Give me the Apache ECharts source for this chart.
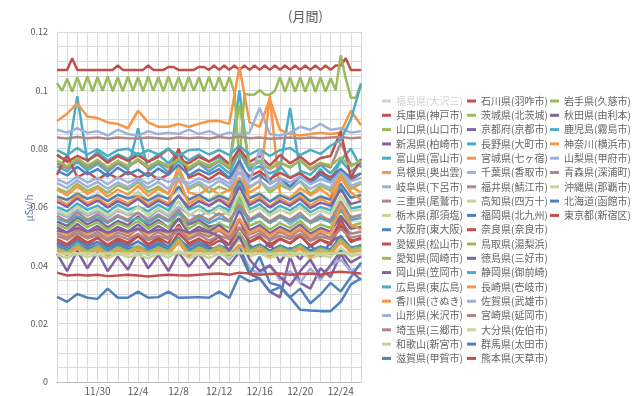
<!DOCTYPE html>
<html><head><meta charset="utf-8">
<script src="https://cdn.jsdelivr.net/npm/echarts@6/dist/echarts.min.js"></script>
<style>html,body{margin:0;padding:0;background:#fff}#c{width:640px;height:396px}</style>
</head><body><div id="c"></div>
<script>
// date labels, one per day (11/26 .. 12/26)
const dates = ['11/26','11/27','11/28','11/29','11/30','12/1','12/2','12/3','12/4','12/5','12/6','12/7','12/8','12/9','12/10','12/11','12/12','12/13','12/14','12/15','12/16','12/17','12/18','12/19','12/20','12/21','12/22','12/23','12/24','12/25','12/26'];
const yTicks = [0, 0.02, 0.04, 0.06, 0.08, 0.1, 0.12];

// legend columns (series order = column 1, then 2, then 3)
const col1 = ['福島県(大沢三)','兵庫県(神戸市)','山口県(山口市)','新潟県(柏崎市)','富山県(富山市)','島根県(奥出雲)','岐阜県(下呂市)','三重県(尾鷲市)','栃木県(那須塩)','大阪府(東大阪)','愛媛県(松山市)','愛知県(岡崎市)','岡山県(笠岡市)','広島県(東広島)','香川県(さぬき)','山形県(米沢市)','埼玉県(三郷市)','和歌山(新宮市)','滋賀県(甲賀市)'];
const col2 = ['石川県(羽咋市)','茨城県(北茨城)','京都府(京都市)','長野県(大町市)','宮城県(七ヶ宿)','千葉県(香取市)','福井県(鯖江市)','高知県(四万十)','福岡県(北九州)','奈良県(奈良市)','鳥取県(湯梨浜)','徳島県(三好市)','静岡県(御前崎)','長崎県(壱岐市)','佐賀県(武雄市)','宮崎県(延岡市)','大分県(佐伯市)','群馬県(太田市)','熊本県(天草市)'];
const col3 = ['岩手県(久慈市)','秋田県(由利本)','鹿児島(霧島市)','神奈川(横浜市)','山梨県(甲府市)','青森県(深浦町)','沖縄県(那覇市)','北海道(函館市)','東京都(新宿区)'];

// daily values (31 points) unless noted
const fukushima = [];
const hyogo    = [.0480,.0465,.0490,.0470,.0495,.0462,.0485,.0472,.0500,.0468,.0488,.0460,.0510,.0475,.0492,.0465,.0485,.0470,.0560,.0480,.0500,.0462,.0490,.0475,.0505,.0465,.0488,.0470,.0540,.0480,.0495];
const yamaguchi= [.0665,.0650,.0680,.0655,.0672,.0648,.0675,.0660,.0685,.0652,.0670,.0645,.0720,.0660,.0678,.0650,.0670,.0655,.0700,.0665,.0690,.0650,.0675,.0660,.0688,.0645,.0672,.0655,.0710,.0662,.0680];
const niigata  = [.0550,.0535,.0565,.0540,.0558,.0530,.0552,.0538,.0568,.0535,.0555,.0530,.0560,.0540,.0555,.0532,.0540,.0500,.0560,.0470,.0440,.0480,.0410,.0460,.0420,.0470,.0430,.0480,.0500,.0450,.0470];
const toyama   = [.0775,.0760,.0980,.0755,.0790,.0760,.0780,.0765,.0785,.0755,.0780,.0750,.0790,.0760,.0780,.0755,.0770,.0740,.1000,.0730,.0760,.0690,.0740,.0700,.0720,.0680,.0730,.0690,.0760,.0720,.0750];
const shimane  = [.0660,.0640,.0670,.0645,.0665,.0635,.0660,.0642,.0672,.0638,.0662,.0645,.0740,.0650,.0640,.0668,.0642,.0660,.0700,.0650,.0670,.0980,.0645,.0630,.0665,.0640,.0662,.0635,.0720,.0670,.0650];
const gifu     = [.0580,.0565,.0590,.0570,.0585,.0562,.0588,.0572,.0580,.0560,.0590,.0568,.0600,.0575,.0565,.0588,.0570,.0585,.0620,.0555,.0580,.0545,.0570,.0540,.0565,.0550,.0575,.0545,.0600,.0560,.0575];
const mie      = [.0510,.0495,.0520,.0498,.0515,.0490,.0512,.0500,.0525,.0492,.0515,.0495,.0540,.0490,.0512,.0498,.0520,.0492,.0560,.0505,.0520,.0490,.0515,.0498,.0522,.0488,.0510,.0495,.0550,.0508,.0515];
const tochigi  = [.0640,.0622,.0650,.0628,.0645,.0620,.0642,.0625,.0652,.0622,.0645,.0628,.0660,.0620,.0640,.0625,.0648,.0620,.0680,.0630,.0650,.0620,.0645,.0625,.0652,.0618,.0640,.0625,.0670,.0632,.0645];
const osaka    = [.0635,.0625,.0645,.0628,.0640,.0620,.0642,.0630,.0638,.0622,.0640,.0628,.0670,.0625,.0642,.0620,.0638,.0625,.0690,.0630,.0645,.0618,.0640,.0625,.0648,.0620,.0635,.0625,.0680,.0632,.0640];
const ehime    = [.0490,.0472,.0500,.0478,.0495,.0470,.0492,.0478,.0505,.0472,.0495,.0475,.0540,.0470,.0490,.0475,.0498,.0470,.0530,.0480,.0495,.0470,.0492,.0476,.0500,.0468,.0488,.0475,.0560,.0485,.0490];
const aichi    = [.0540,.0525,.0555,.0530,.0548,.0522,.0545,.0530,.0552,.0525,.0548,.0530,.0580,.0525,.0548,.0522,.0545,.0528,.0640,.0535,.0550,.0522,.0545,.0528,.0552,.0520,.0540,.0528,.0590,.0535,.0545];
const okayama  = [.0440,.0380,.0450,.0390,.0445,.0380,.0430,.0385,.0450,.0390,.0435,.0380,.0445,.0395,.0440,.0390,.0430,.0400,.0445,.0370,.0355,.0310,.0290,.0430,.0340,.0320,.0390,.0360,.0440,.0380,.0350];
const hiroshima= [.0600,.0585,.0612,.0590,.0605,.0582,.0608,.0590,.0602,.0585,.0608,.0588,.0640,.0590,.0605,.0582,.0605,.0588,.0680,.0592,.0610,.0580,.0605,.0588,.0612,.0582,.0600,.0588,.0670,.0595,.0602];
const kagawa   = [.0628,.0608,.0640,.0612,.0632,.0605,.0630,.0612,.0638,.0608,.0630,.0612,.0700,.0610,.0632,.0605,.0630,.0610,.0760,.0615,.0635,.0602,.0630,.0612,.0638,.0605,.0628,.0610,.0700,.0650,.0625];
const yamagata = [.0470,.0455,.0480,.0458,.0475,.0450,.0472,.0458,.0482,.0455,.0472,.0458,.0478,.0450,.0470,.0458,.0455,.0420,.0460,.0390,.0370,.0400,.0350,.0380,.0340,.0390,.0350,.0400,.0420,.0380,.0400];
const saitama  = [.0500,.0488,.0510,.0492,.0505,.0485,.0502,.0490,.0508,.0486,.0502,.0490,.0520,.0488,.0505,.0485,.0502,.0490,.0530,.0492,.0510,.0485,.0502,.0490,.0508,.0484,.0498,.0490,.0525,.0495,.0502];
const wakayama = [.0590,.0572,.0602,.0576,.0595,.0570,.0592,.0576,.0600,.0572,.0595,.0575,.0620,.0570,.0592,.0575,.0598,.0572,.0650,.0580,.0598,.0570,.0592,.0576,.0600,.0570,.0588,.0576,.0640,.0585,.0592];
const shiga    = [.0475,.0462,.0485,.0466,.0480,.0460,.0478,.0465,.0482,.0460,.0478,.0465,.0490,.0462,.0480,.0460,.0455,.0430,.0470,.0370,.0430,.0340,.0330,.0290,.0320,.0270,.0300,.0340,.0310,.0360,.0410];
// half-day values (61 points)
const ishikawa = [.107,.107,.107,.111,.107,.107,.107,.107,.107,.107,.107,.107,.1085,.107,.107,.107,.107,.107,.1085,.107,.107,.107,.108,.108,.107,.107,.107,.107,.108,.108,.107,.1085,.107,.1085,.107,.1085,.107,.1085,.107,.1085,.107,.1085,.107,.1085,.107,.1085,.107,.1085,.107,.1085,.107,.1085,.107,.1085,.107,.1085,.1085,.111,.107,.107,.107];
const ibaraki  = [.1025,.0998,.1040,.0995,.1045,.0998,.1048,.0997,.1045,.0998,.1048,.0997,.1045,.0997,.1048,.0998,.1045,.0997,.1048,.0998,.1045,.0997,.1048,.0998,.1045,.0997,.1046,.0998,.1045,.0997,.1047,.0998,.1045,.0997,.1045,.0995,.0750,.0988,.0985,.0986,.1000,.0986,.0985,.0998,.1045,.0995,.1045,.0995,.1045,.0995,.1045,.0995,.1045,.0995,.1042,.1000,.1120,.1040,.0975,.0975,.1025];
// daily values again
const kyoto    = [.0530,.0512,.0542,.0516,.0535,.0510,.0532,.0516,.0540,.0512,.0535,.0515,.0560,.0510,.0532,.0515,.0538,.0512,.0590,.0520,.0538,.0510,.0532,.0516,.0540,.0508,.0528,.0515,.0570,.0525,.0532];
const nagano   = [.0740,.0722,.0755,.0726,.0748,.0720,.0750,.0728,.0870,.0724,.0748,.0720,.0760,.0725,.0750,.0722,.0745,.0715,.0790,.0725,.0740,.0715,.0730,.0940,.0725,.0710,.0745,.0715,.0760,.0800,.0735];
const miyagi   = [.0895,.0920,.0955,.0910,.0905,.0890,.0885,.0870,.0930,.0890,.0875,.0875,.0885,.0875,.0885,.0895,.0895,.0885,.1080,.0890,.0875,.0970,.0865,.0850,.0845,.0850,.0855,.0850,.0855,.0930,.0880];
const chiba    = [.0865,.0855,.0870,.0855,.0860,.0845,.0865,.0850,.0845,.0860,.0850,.0855,.0850,.0865,.0850,.0860,.0845,.0855,.0850,.0855,.0940,.0850,.0845,.0855,.0875,.0865,.0885,.0865,.0870,.0855,.0860];
const fukui    = [.0750,.0732,.0762,.0736,.0755,.0730,.0752,.0736,.0760,.0732,.0755,.0735,.0780,.0730,.0752,.0735,.0758,.0732,.0800,.0738,.0755,.0730,.0752,.0736,.0760,.0728,.0748,.0735,.0820,.0745,.0752];
const kochi    = [.0455,.0445,.0462,.0448,.0458,.0442,.0460,.0448,.0455,.0442,.0460,.0446,.0475,.0444,.0460,.0442,.0458,.0445,.0490,.0448,.0462,.0440,.0458,.0445,.0462,.0442,.0455,.0445,.0480,.0450,.0458];
const fukuoka  = [.0465,.0452,.0472,.0456,.0468,.0450,.0470,.0456,.0465,.0450,.0470,.0455,.0495,.0452,.0470,.0450,.0468,.0454,.0510,.0458,.0472,.0450,.0468,.0454,.0472,.0450,.0465,.0454,.0500,.0460,.0468];
const nara     = [.0710,.0780,.0702,.0720,.0695,.0715,.0698,.0722,.0700,.0718,.0695,.0712,.0800,.0700,.0715,.0695,.0718,.0698,.0740,.0705,.0722,.0695,.0718,.0700,.0715,.0692,.0720,.0702,.0730,.0695,.0715];
const tottori  = [.0460,.0445,.0470,.0448,.0465,.0442,.0462,.0448,.0468,.0445,.0462,.0448,.0490,.0442,.0462,.0448,.0465,.0445,.0510,.0450,.0465,.0442,.0462,.0448,.0468,.0440,.0458,.0448,.0490,.0455,.0462];
const tokushima= [.0618,.0600,.0630,.0604,.0622,.0598,.0620,.0604,.0628,.0600,.0622,.0604,.0640,.0598,.0620,.0604,.0625,.0600,.0670,.0606,.0625,.0598,.0620,.0604,.0628,.0596,.0615,.0604,.0660,.0610,.0620];
const shizuoka = [.0560,.0548,.0570,.0552,.0565,.0545,.0568,.0552,.0562,.0545,.0568,.0550,.0580,.0548,.0565,.0545,.0562,.0550,.0600,.0552,.0570,.0545,.0565,.0550,.0570,.0545,.0560,.0550,.0590,.0555,.0562];
const nagasaki = [.0520,.0505,.0530,.0508,.0525,.0502,.0522,.0508,.0528,.0505,.0522,.0508,.0530,.0502,.0522,.0508,.0525,.0505,.0560,.0510,.0528,.0502,.0522,.0508,.0528,.0500,.0518,.0508,.0610,.0540,.0522];
const saga     = [.0682,.0665,.0692,.0668,.0686,.0662,.0684,.0668,.0692,.0665,.0686,.0662,.0700,.0668,.0686,.0665,.0690,.0668,.0720,.0670,.0690,.0662,.0686,.0665,.0690,.0662,.0680,.0665,.0730,.0672,.0686];
const miyazaki = [.0570,.0552,.0582,.0556,.0575,.0550,.0572,.0556,.0580,.0552,.0575,.0555,.0590,.0550,.0572,.0555,.0578,.0552,.0610,.0558,.0575,.0550,.0572,.0556,.0580,.0548,.0568,.0555,.0620,.0565,.0572];
const oita     = [.0435,.0425,.0442,.0428,.0438,.0424,.0440,.0428,.0436,.0424,.0440,.0426,.0450,.0424,.0438,.0425,.0440,.0426,.0470,.0430,.0442,.0424,.0438,.0428,.0442,.0424,.0435,.0428,.0460,.0432,.0438];
const gunma    = [.0725,.0708,.0738,.0712,.0730,.0705,.0735,.0712,.0728,.0705,.0732,.0710,.0745,.0708,.0728,.0712,.0730,.0700,.0760,.0690,.0710,.0680,.0700,.0670,.0705,.0680,.0712,.0690,.0730,.0700,.0715];
const kumamoto = [.0780,.0755,.0775,.0760,.0780,.0752,.0775,.0758,.0778,.0755,.0772,.0800,.0762,.0750,.0772,.0756,.0778,.0748,.0800,.0755,.0775,.0742,.0778,.0750,.0772,.0745,.0768,.0775,.0860,.0700,.0765];
const iwate    = [.0760,.0738,.0768,.0742,.0762,.0735,.0758,.0740,.0765,.0738,.0758,.0740,.0765,.0735,.0758,.0742,.0760,.0738,.0950,.0740,.0758,.0730,.0755,.0735,.0760,.0732,.0752,.0742,.0770,.0740,.0758];
const akita    = [.0520,.0513,.0528,.0515,.0524,.0512,.0522,.0515,.0526,.0513,.0522,.0515,.0524,.0512,.0520,.0515,.0500,.0450,.0500,.0420,.0380,.0400,.0360,.0330,.0380,.0420,.0360,.0400,.0450,.0410,.0430];
const kagoshima= [.0795,.0778,.0802,.0780,.0798,.0775,.0795,.0800,.0778,.0795,.0780,.0800,.0776,.0795,.0798,.0780,.0796,.0778,.0810,.0780,.0798,.0775,.0795,.0802,.0778,.0796,.0782,.0810,.0830,.0900,.1020];
const kanagawa = [.0450,.0435,.0460,.0438,.0455,.0432,.0452,.0438,.0458,.0435,.0452,.0438,.0480,.0432,.0452,.0438,.0455,.0435,.0470,.0440,.0455,.0432,.0452,.0438,.0458,.0430,.0448,.0438,.0480,.0445,.0452];
const yamanashi= [.0695,.0680,.0705,.0684,.0700,.0678,.0702,.0684,.0698,.0680,.0702,.0685,.0700,.0680,.0698,.0684,.0700,.0680,.0740,.0685,.0800,.0678,.0700,.0684,.0705,.0678,.0695,.0684,.0720,.0688,.0700];
const aomori   = [.0838,.0835,.0840,.0836,.0838,.0834,.0838,.0836,.0835,.0838,.0836,.0834,.0838,.0836,.0838,.0835,.0840,.0836,.0842,.0836,.0838,.0834,.0836,.0838,.0835,.0838,.0836,.0838,.0840,.0836,.0838];
const okinawa  = [.0440,.0441,.0440,.0442,.0440,.0441,.0440,.0441,.0442,.0440,.0441,.0440,.0441,.0442,.0440,.0441,.0440,.0441,.0442,.0440,.0441,.0440,.0441,.0442,.0440,.0441,.0440,.0441,.0442,.0440,.0441];
const hokkaido = [.0292,.0275,.0302,.0289,.0285,.0320,.0289,.0289,.0310,.0289,.0291,.0310,.0289,.0290,.0291,.0289,.0310,.0288,.0365,.0345,.0355,.0310,.0325,.0290,.0248,.0245,.0243,.0243,.0275,.0335,.0355];
const tokyo    = [.0375,.0365,.0368,.0365,.0368,.0363,.0365,.0368,.0365,.0362,.0365,.0368,.0366,.0365,.0368,.0370,.0372,.0368,.0375,.0372,.0368,.0370,.0372,.0368,.0370,.0372,.0368,.0375,.0378,.0375,.0372];

const seriesNames = col1.concat(col2, col3);
const seriesValues = [fukushima,hyogo,yamaguchi,niigata,toyama,shimane,gifu,mie,tochigi,osaka,ehime,aichi,okayama,hiroshima,kagawa,yamagata,saitama,wakayama,shiga,
  ishikawa,ibaraki,kyoto,nagano,miyagi,chiba,fukui,kochi,fukuoka,nara,tottori,tokushima,shizuoka,nagasaki,saga,miyazaki,oita,gunma,kumamoto,
  iwate,akita,kagoshima,kanagawa,yamanashi,aomori,okinawa,hokkaido,tokyo];
const palette = ['#4f81bd','#c0504d','#9bbb59','#8064a2','#4bacc6','#f79646','#9eb2d9','#ae8786','#c4d79b'];

const FONT = '"Noto Sans CJK JP", "Noto Sans", sans-serif';
const span = dates.length - 1;
const series = seriesNames.map((name, i) => {
  const vals = seriesValues[i];
  const step = vals.length > 1 ? span / (vals.length - 1) : 1;
  return {
    name, type: 'line', showSymbol: false, symbol: 'none',
    color: palette[i % palette.length],
    lineStyle: { width: 2.5 },
    data: vals.map((v, k) => [k * step, v]),
    animation: false
  };
});

function mkLegend(names, left) {
  return {
    data: names, orient: 'vertical', left: left, top: 90,
    itemWidth: 9, itemHeight: 3, icon: 'rect', itemGap: 2.3,
    textStyle: { fontFamily: FONT, fontSize: 10, color: '#666', lineHeight: 12 },
    selected: { '福島県(大沢三)': false }
  };
}

const chart = echarts.init(document.getElementById('c'), null, { renderer: 'canvas' });
chart.setOption({
  backgroundColor: '#fff',
  animation: false,
  title: { text: '(月間)', left: 283, top: 5, textStyle: { fontFamily: FONT, fontSize: 13, fontWeight: 'normal', color: '#595959' } },
  legend: [mkLegend(col1, 377), mkLegend(col2, 462), mkLegend(col3, 545)],
  graphic: [{
    type: 'text', x: 29, y: 208, rotation: Math.PI / 2,
    style: { text: 'µSv/h', fontFamily: FONT, fontSize: 10, fill: '#6b7b95', align: 'center', verticalAlign: 'middle' }
  }],
  grid: { left: 57, right: 279, top: 32, bottom: 12, containLabel: false },
  xAxis: {
    type: 'value', min: 0, max: span, interval: 1,
    axisLine: { show: true, lineStyle: { color: '#bfbfbf' } },
    axisTick: { show: false },
    splitLine: { show: true, lineStyle: { color: '#d9d9d9', width: 1 } },
    axisLabel: { margin: 4, fontFamily: FONT, fontSize: 10, color: '#595959',
      formatter: v => { const i = Math.round(v); return (i % 4 === 0 && i > 0 && i < span) ? dates[i] : ''; } }
  },
  yAxis: {
    type: 'value', min: 0, max: 0.12, interval: 0.005,
    axisLine: { show: true, lineStyle: { color: '#d9d9d9' } },
    axisTick: { show: false },
    splitLine: { show: true, lineStyle: { color: '#d9d9d9', width: 1 } },
    axisLabel: { margin: 9, fontFamily: FONT, fontSize: 9, color: '#595959',
      formatter: v => { const t = yTicks.find(y => Math.abs(y - v) < 1e-9); return t === undefined ? '' : String(t); } }
  },
  series: series
});
</script>
</body></html>
